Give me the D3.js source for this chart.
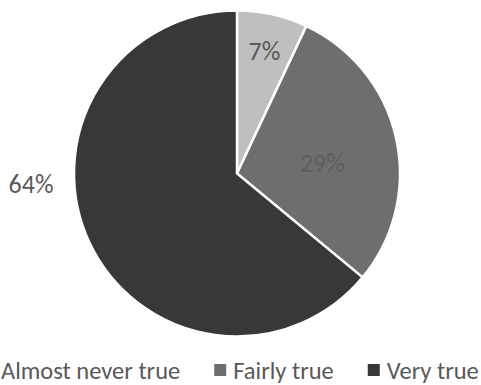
<!DOCTYPE html>
<html>
<head>
<meta charset="utf-8">
<script src="https://cdn.jsdelivr.net/npm/d3@7"></script>
<style>
  html, body { margin: 0; padding: 0; background: #fff; }
  svg { display: block; font-family: Carlito, Calibri, Lato, "Open Sans", sans-serif; }
</style>
</head>
<body>
<div id="chart"></div>
<script>
// Data
const categories = ["Almost never true", "Fairly true", "Very true"];
const shares = [7, 29, 64];
const colors = ["#bfbfbf", "#6e6e6e", "#383838"];

const width = 481, height = 385;
const cx = 237, cy = 173.5, radius = 163;

const svg = d3.select("#chart")
  .append("svg")
    .attr("width", width)
    .attr("height", height);

const pie = d3.pie().sort(null).value(d => d);
const arcs = pie(shares);

const arc = d3.arc().innerRadius(0).outerRadius(radius);

const g = svg.append("g")
  .attr("transform", `translate(${cx},${cy})`);

g.selectAll(".slice")
  .data(arcs)
  .join("path")
  .attr("class", "slice")
  .attr("d", arc)
  .attr("fill", (d, i) => colors[i])
  .attr("stroke", "#fff")
  .attr("stroke-width", 2.5)
  .attr("stroke-linejoin", "miter");

// Data labels - small slices inside, the big one outside on the left
const labelRadius = [126, 86];
g.selectAll(".pct")
  .data(arcs)
  .join("text")
  .attr("class", "pct")
  .attr("text-anchor", "middle")
  .attr("dominant-baseline", "central")
  .attr("font-size", 26)
  .attr("fill", (d, i) => i === 1 ? "#5e5e5e" : "#595959")
  .attr("transform", (d, i) => {
    if (i < 2) {
      const a = (d.startAngle + d.endAngle) / 2 + (i === 1 ? 0.1 : 0);
      const r = labelRadius[i];
      return `translate(${Math.sin(a) * r},${-Math.cos(a) * r})`;
    }
    return `translate(${-radius - 43},${10})`;
  })
  .text(d => d.data + "%");

// Legend
const legend = svg.append("g")
  .attr("transform", `translate(0,${height - 14})`);

const box = 12, gap = 7, itemGap = 34;
let xPos = 1;
categories.forEach((c, i) => {
  const item = legend.append("g");
  item.append("rect")
    .attr("x", xPos - gap - box)
    .attr("y", -box / 2 - 1)
    .attr("width", box)
    .attr("height", box)
    .attr("fill", colors[i]);
  const t = item.append("text")
    .attr("x", xPos)
    .attr("y", 0)
    .attr("dominant-baseline", "central")
    .attr("font-size", 24.5)
    .attr("fill", "#595959")
    .text(c);
  xPos += t.node().getComputedTextLength() + itemGap + box + gap;
});
</script>
</body>
</html>
